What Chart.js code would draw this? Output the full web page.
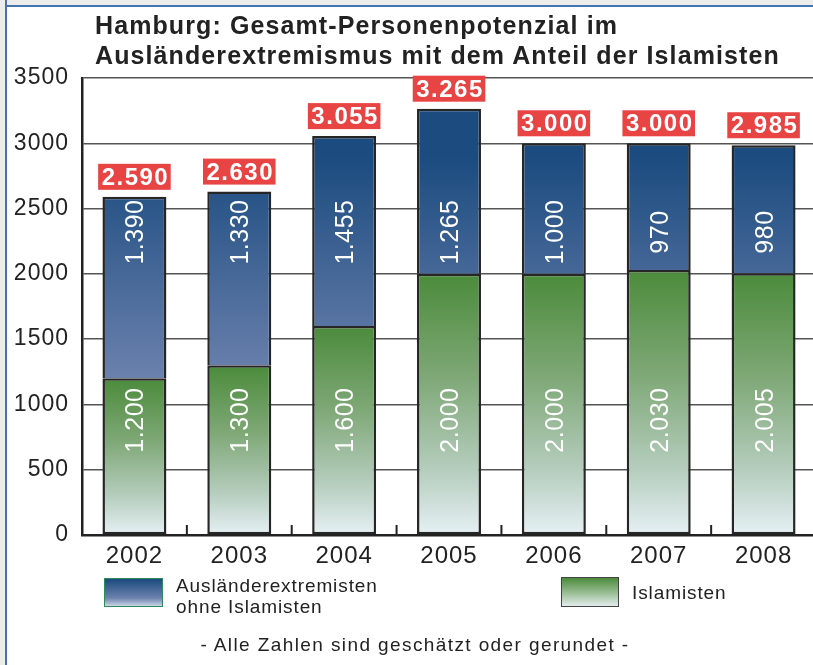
<!DOCTYPE html>
<html lang="de">
<head>
<meta charset="utf-8">
<title>Hamburg: Gesamt-Personenpotenzial im Ausländerextremismus</title>
<script src="https://cdn.jsdelivr.net/npm/chart.js@4.4.1/dist/chart.umd.min.js"></script>
<style>
  html, body { margin: 0; padding: 0; overflow: hidden; }
  body { width: 813px; height: 665px; background: #ffffff; font-family: "Liberation Sans", Arial, Helvetica, sans-serif; color: #222; }
  #randOben { position: absolute; left: 0; top: 0; width: 813px; height: 5px; background: #ececec; border-bottom: 2px solid #4474ac; }
  #randLinks { position: absolute; left: 0; top: 0; width: 5px; height: 665px; background: #ececec; border-right: 2px solid #4474ac; }
  #chart { position: absolute; left: 0; top: 0; }
  #titel { position: absolute; left: 95px; top: 10px; font-size: 25px; font-weight: bold; line-height: 30px; letter-spacing: 1.1px; white-space: nowrap; }
  .swatch { position: absolute; box-sizing: border-box; }
  .leg { position: absolute; font-size: 19px; line-height: 21px; letter-spacing: 0.9px; white-space: nowrap; }
  #fussnote { position: absolute; left: 0; width: 830px; text-align: center; top: 634px; font-size: 19px; letter-spacing: 1.4px; }
</style>
</head>
<body>
<div id="randOben"></div>
<div id="randLinks"></div>
<canvas id="chart" width="840" height="665"></canvas>
<div id="titel">Hamburg: Gesamt-Personenpotenzial im<br>Ausländerextremismus mit dem Anteil der Islamisten</div>
<div class="swatch" style="left:104px;top:578px;width:59px;height:29px;border:1px solid #2f8a5c;background:linear-gradient(#1b4b7f,#6b81ad 70%,#c9d3e3);"></div>
<div class="leg" style="left:176px;top:575px;">Ausländerextremisten<br>ohne Islamisten</div>
<div class="swatch" style="left:561px;top:577px;width:58px;height:30px;border:1px solid #444;background:linear-gradient(#4b8b3b,#9cbf98 55%,#e2ecec);"></div>
<div class="leg" style="left:632px;top:582px;">Islamisten</div>
<div id="fussnote">- Alle Zahlen sind geschätzt oder gerundet -</div>

<script>
// Daten
const jahre = ["2002", "2003", "2004", "2005", "2006", "2007", "2008"];
const islamisten = [1200, 1300, 1600, 2000, 2000, 2030, 2005];
const ohneIslamisten = [1390, 1330, 1455, 1265, 1000, 970, 980];
const gesamt = [2590, 2630, 3055, 3265, 3000, 3000, 2985];

// Höhe der Beschriftungen in den Balken (Skalenwert)
const labelHoeheBlau = 2320;
const labelHoeheGruen = 880;

function zahl(n) {
    if (n < 1000) return String(n);
    return Math.floor(n / 1000) + "." + String(n % 1000).padStart(3, "0");
}

function gruenVerlauf(c) {
    const ch = c.chart;
    if (!ch.chartArea || c.type !== "data") return "#4b8b3b";
    const y = ch.scales.y;
    const g = ch.ctx.createLinearGradient(0, y.getPixelForValue(islamisten[c.dataIndex]), 0, y.getPixelForValue(0));
    g.addColorStop(0, "#4b8b3b");
    g.addColorStop(0.4, "#7fa877");
    g.addColorStop(0.75, "#b5cdbd");
    g.addColorStop(1, "#e6f0f4");
    return g;
}

function blauVerlauf(c) {
    const ch = c.chart;
    if (!ch.chartArea) return "#1b4b7f";
    const y = ch.scales.y;
    const g = ch.ctx.createLinearGradient(0, y.getPixelForValue(2900), 0, y.getPixelForValue(1200));
    g.addColorStop(0, "#1b4b7f");
    g.addColorStop(1, "#6b81ad");
    return g;
}

// kleine Striche zwischen den Jahren + Beschriftungen
const beschriftung = {
    id: "beschriftung",
    beforeDraw(chart) {
        chart.ctx.letterSpacing = "1px";
    },
    afterDatasetsDraw(chart) {
        const ctx = chart.ctx;
        const x = chart.scales.x, y = chart.scales.y;
        const unten = chart.chartArea.bottom;
        ctx.save();
        ctx.strokeStyle = "#222";
        ctx.lineWidth = 2;
        for (let i = 1; i < jahre.length; i++) {
            const px = (x.getPixelForValue(i - 1) + x.getPixelForValue(i)) / 2;
            ctx.beginPath();
            ctx.moveTo(px, unten);
            ctx.lineTo(px, unten - 10);
            ctx.stroke();
        }

        const blau = chart.getDatasetMeta(1).data;
        jahre.forEach((j, i) => {
            const bar = blau[i];
            // rote Summenbox
            ctx.font = "bold 24px 'Liberation Sans', Arial, sans-serif";
            ctx.letterSpacing = "1.5px";
            const txt = zahl(gesamt[i]);
            const w = ctx.measureText(txt).width + 5;
            const boxUnten = bar.y - 7;
            ctx.fillStyle = "#e84444";
            ctx.fillRect(bar.x - w / 2, boxUnten - 26, w, 26);
            ctx.fillStyle = "#fff";
            ctx.textAlign = "center";
            ctx.textBaseline = "alphabetic";
            ctx.fillText(txt, bar.x + 1, boxUnten - 5);

            // senkrechte Werte in den Balken
            ctx.font = "25px 'Liberation Sans', Arial, sans-serif";
            ctx.letterSpacing = "0.5px";
            [[ohneIslamisten[i], labelHoeheBlau], [islamisten[i], labelHoeheGruen]].forEach(([v, h]) => {
                ctx.save();
                ctx.translate(bar.x, y.getPixelForValue(h));
                ctx.rotate(-Math.PI / 2);
                ctx.fillText(zahl(v), 0, 9);
                ctx.restore();
            });
        });
        ctx.restore();
    }
};

new Chart(document.getElementById("chart"), {
    type: "bar",
    data: {
        labels: jahre,
        datasets: [
            { label: "Islamisten", data: islamisten, backgroundColor: gruenVerlauf, borderSkipped: false },
            { label: "Ausländerextremisten ohne Islamisten", data: ohneIslamisten, backgroundColor: blauVerlauf, borderSkipped: "bottom" }
        ]
    },
    options: {
        responsive: false,
        animation: false,
        layout: { padding: { left: 0, top: 78, right: 24, bottom: 90 } },
        datasets: {
            bar: {
                barPercentage: 0.61,
                categoryPercentage: 1,
                borderWidth: 2.5,
                borderColor: "#262626"
            }
        },
        plugins: {
            legend: { display: false },
            title: { display: false },
            tooltip: { enabled: false }
        },
        scales: {
            x: {
                stacked: true,
                grid: { display: false, drawTicks: false },
                border: { display: true, color: "#222", width: 2.5 },
                ticks: { color: "#222", font: { size: 24, family: "'Liberation Sans', Arial, sans-serif" }, padding: 7 },
                afterFit(s) { s.height = 40; }
            },
            y: {
                stacked: true,
                min: 0,
                max: 3500,
                ticks: {
                    stepSize: 500,
                    color: "#222",
                    padding: 13,
                    font: { size: 23, family: "'Liberation Sans', Arial, sans-serif" },
                    callback: (v) => String(v)
                },
                grid: { color: "#555", lineWidth: 1.5, drawTicks: false },
                border: { display: true, color: "#222", width: 2.5 },
                afterFit(s) { s.width = 82; }
            }
        }
    },
    plugins: [beschriftung]
});
</script>
</body>
</html>
